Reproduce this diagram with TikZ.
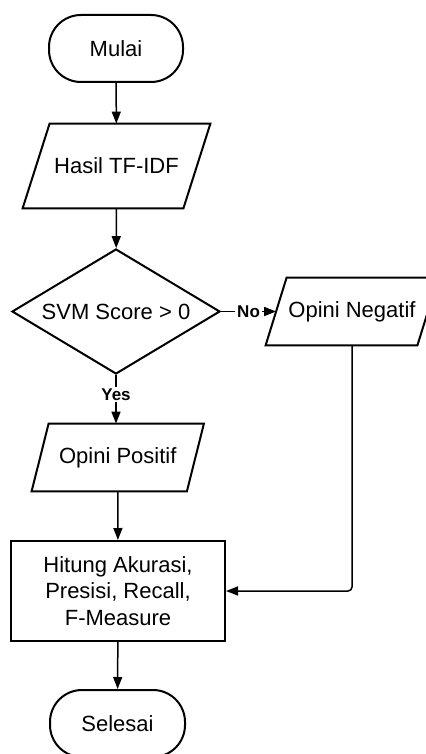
\documentclass[tikz,border=0pt]{standalone}
\usepackage{fontspec}
\setmainfont{Liberation Sans}
\usepackage{tikz}
\usetikzlibrary{calc,shapes,shapes.geometric,arrows,arrows.meta,positioning}
\tikzstyle{terminal}=[draw,line width=1pt,rounded corners=16pt,inner sep=0pt,font=\fontsize{11}{13}\selectfont]
\tikzstyle{data}=[inner sep=0pt,font=\fontsize{11}{13}\selectfont]
\tikzstyle{decision}=[draw,line width=1pt,diamond,aspect=1.66,inner sep=0pt,font=\fontsize{11}{13}\selectfont]
\tikzstyle{process}=[draw,line width=1pt,inner sep=0pt,align=center,font=\fontsize{11}{13.25}\selectfont]
\tikzstyle{flow}=[-{Triangle[length=6pt,width=4.5pt]},line width=0.75pt]
\tikzstyle{answer}=[fill=white,inner sep=1pt,font=\fontsize{8.5}{9}\selectfont\bfseries]

\begin{document}
\begin{tikzpicture}[x=0.5pt,y=-0.5pt]
        \useasboundingbox (0,0) rectangle (425,754);
        \node[terminal,minimum width=67pt,minimum height=33.5pt] (mulai) at (116,48.5) {Mulai};
        \node[data,minimum width=80pt,minimum height=42pt] (tfidf) at (116.5,166) {Hasil TF-IDF};
        \node[decision,minimum width=104pt,minimum height=62.5pt] (svm) at (116,311.5) {SVM Score > 0};
        \node[data,minimum width=75.5pt,minimum height=33.5pt] (negatif) at (352,311.5) {Opini Negatif};
        \node[data,minimum width=77.25pt,minimum height=33.5pt] (positif) at (117.75,457.5) {Opini Positif};
        \node[process,minimum width=107pt,minimum height=50pt] (hitung) at (118,591) {Hitung Akurasi,\\Presisi, Recall,\\F-Measure};
        \node[terminal,minimum width=67.5pt,minimum height=33.5pt] (selesai) at (117.5,723.5) {Selesai};
        % parallelogram outlines
        \foreach \n/\s in {tfidf/6.75pt,negatif/5.25pt,positif/4.25pt}
          \draw[line width=1pt] ($(\n.south west)+(-\s,0)$) -- ($(\n.north west)+(\s,0)$) -- ($(\n.north east)+(\s,0)$) -- ($(\n.south east)+(-\s,0)$) -- cycle;
        \draw[flow] (mulai) -- (tfidf);
        \draw[flow] (tfidf) -- (svm);
        \draw[flow] (svm) -- node[answer] {No} (negatif);
        \draw[flow] (svm.south) -- node[answer,pos=0.4] {Yes} (svm.south |- positif.north);
        \draw[flow] (positif) -- (hitung);
        \draw[flow,rounded corners=2pt] (negatif.south) |- (hitung.east);
        \draw[flow] (hitung) -- (selesai);
      \end{tikzpicture}
\end{document}
